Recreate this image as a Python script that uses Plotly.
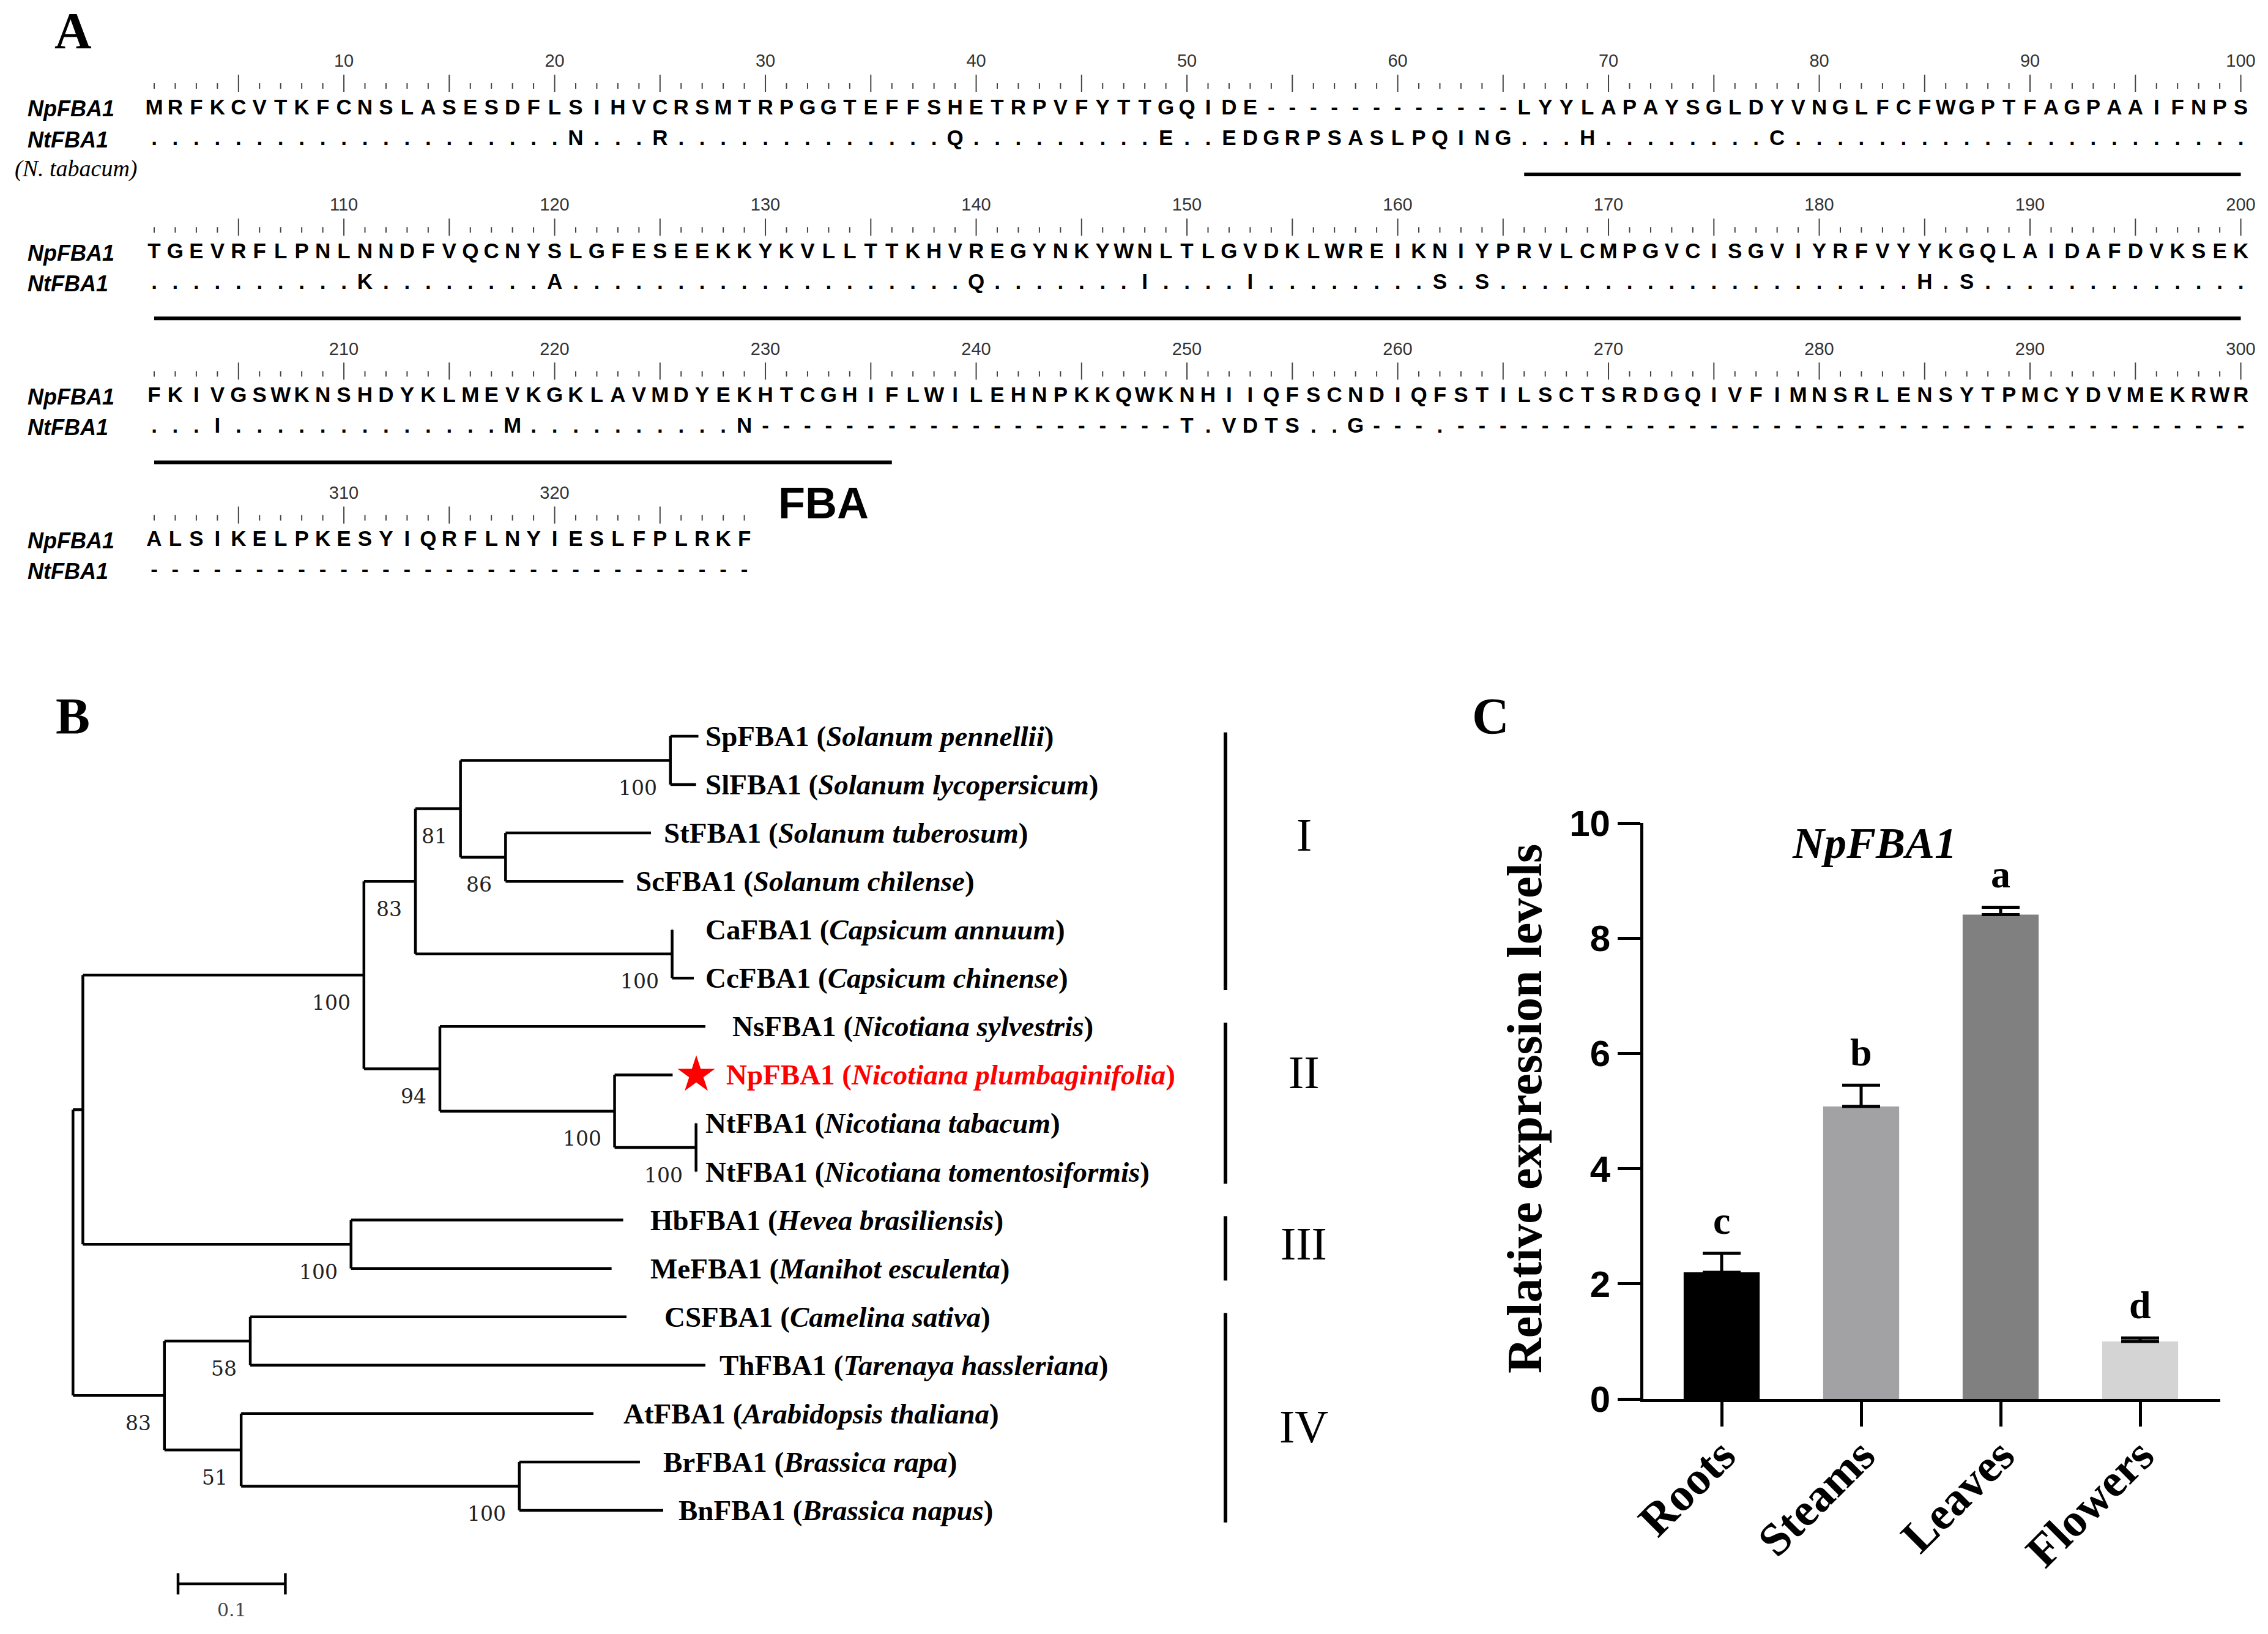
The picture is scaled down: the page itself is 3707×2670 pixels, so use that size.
import plotly.graph_objects as go

W, H = 3707, 2670

# ================= Panel A : alignment data =================
ROW_STARTS = [1, 101, 201, 301]
NP_ROWS = [
    "MRFKCVTKFCNSLASESDFLSIHVCRSMTRPGGTEFFSHETRPVFYTTGQIDE------------LYYLAPAYSGLDYVNGLFCFWGPTFAGPAAIFNPS",
    "TGEVRFLPNLNNDFVQCNYSLGFESEEKKYKVLLTTKHVREGYNKYWNLTLGVDKLWREIKNIYPRVLCMPGVCISGVIYRFVYYKGQLAIDAFDVKSEK",
    "FKIVGSWKNSHDYKLMEVKGKLAVMDYEKHTCGHIFLWILEHNPKKQWKNHIIQFSCNDIQFSTILSCTSRDGQIVFIMNSRLENSYTPMCYDVMEKRWR",
    "ALSIKELPKESYIQRFLNYIESLFPLRKF",
]
NT_ROWS = [
    "...................." + "N" + "..." + "R" + "............." + "Q" + "........." + "E" + ".."
    + "EDGRPSASLPQING" + "..." + "H" + "........" + "C" + "......................",
    ".........." + "K" + "........" + "A" + "..................." + "Q" + "......." + "I" + "...."
    + "I" + "........" + "S.S" + "...................." + "H.S" + ".............",
    "..." + "I" + "............." + "M" + ".........." + "N" + "--------------------"
    + "T.VDTS..G" + "---" + "." + "--------------------------------------",
    "-----------------------------",
]
SEQ_NAMES = ["NpFBA1", "NtFBA1"]
NT_NOTE = "(N. tabacum)"
FBA_DOMAIN = (66, 236)
DOMAIN_LABEL = "FBA"

# ================= Panel B : tree data =================
LEAF_GENES = ["SpFBA1", "SlFBA1", "StFBA1", "ScFBA1", "CaFBA1", "CcFBA1", "NsFBA1", "NpFBA1",
              "NtFBA1", "NtFBA1", "HbFBA1", "MeFBA1", "CSFBA1", "ThFBA1", "AtFBA1", "BrFBA1", "BnFBA1"]
LEAF_SPECIES = ["Solanum pennellii", "Solanum lycopersicum", "Solanum tuberosum", "Solanum chilense",
                "Capsicum annuum", "Capsicum chinense", "Nicotiana sylvestris", "Nicotiana plumbaginifolia",
                "Nicotiana tabacum", "Nicotiana tomentosiformis", "Hevea brasiliensis", "Manihot esculenta",
                "Camelina sativa", "Tarenaya hassleriana", "Arabidopsis thaliana", "Brassica rapa", "Brassica napus"]
LEAF_IDS = ["Sp", "Sl", "St", "Sc", "Ca", "Cc", "Ns", "Np", "Nt", "Nt2", "Hb", "Me", "CS", "Th", "At", "Br", "Bn"]
LEAF_DEPTH = [0.5828, 0.5806, 0.5386, 0.5129, 0.5585, 0.5785, 0.5893, 0.5588,
              0.5808, 0.5808, 0.5127, 0.5019, 0.5158, 0.5893, 0.4850, 0.5283, 0.5500]
NODE_IDS = ["SpSl", "StSc", "Sol2", "Cap", "Sol", "NtNt", "NpNt", "Nic", "Sola", "Euph", "X",
            "CT", "BrBn", "ABB", "Bras", "Root"]
NODE_CHILDREN = [("Sp", "Sl"), ("St", "Sc"), ("SpSl", "StSc"), ("Ca", "Cc"), ("Sol2", "Cap"),
                 ("Nt", "Nt2"), ("Np", "NtNt"), ("Ns", "NpNt"), ("Sol", "Nic"), ("Hb", "Me"),
                 ("Sola", "Euph"), ("CS", "Th"), ("Br", "Bn"), ("At", "BrBn"), ("CT", "ABB"), ("X", "Bras")]
NODE_DEPTH = [0.5567, 0.4031, 0.3611, 0.5583, 0.3191, 0.5806, 0.5047, 0.3419, 0.2711, 0.2591, 0.0092,
              0.1652, 0.4159, 0.1567, 0.0852, 0.0]
NODE_BOOTSTRAP = [100, 86, 81, 100, 83, 100, 100, 94, 100, 100, None, 58, 100, 51, 83, None]
CLADES = ["I", "II", "III", "IV"]
CLADE_MEMBERS = [(0, 5), (6, 9), (10, 11), (12, 16)]
SCALE_BAR = 0.1
SCALE_LABEL = "0.1"

# ================= Panel C : expression data =================
TISSUES = ["Roots", "Steams", "Leaves", "Flowers"]
EXPR = [2.20, 5.08, 8.41, 1.00]
EXPR_ERR = [0.33, 0.37, 0.13, 0.06]
SIG = ["c", "b", "a", "d"]
BAR_COLORS = ["#000000", "#a2a2a5", "#808080", "#d4d4d4"]
GENE_TITLE = "NpFBA1"
Y_TITLE = "Relative expression levels"

# ---------------- layout constants (pixels) ----------------
A_X1, A_DX = 252.0, 34.45          # column 1 centre, column pitch
A_ROW0, A_PITCH = 178.0, 235.2     # first Np row centre, block pitch
NT_OFF = 50                        # Nt row below Np row
T_X0, T_DX = 119.3, 1754.0         # tree root x, px per unit distance
T_Y0, T_DY = 1203.0, 79.06         # first leaf y, leaf pitch
LABEL_GAP = [9, 13, 19, 18, 52, 17, 42, 86, 13, 13, 42, 61, 60, 21, 47, 36, 23]
CLADE_LABEL_Y = [2.04, 6.95, 10.49, 14.27]
C_X0, C_X1, C_CAT0, C_CATD = 2686.0, 3629.0, 2814.0, 228.0
C_Y0, C_Y10 = 2286.0, 1345.0

SANS_N = "Liberation Sans Narrow, Liberation Sans, Arial, sans-serif"
SANS = "Liberation Sans, Arial, sans-serif"
SERIF = "Liberation Serif, Times New Roman, serif"


def paper(x, y):
    return x / W, 1 - y / H


def label(px_, py_, text, font, xanchor="center", **kw):
    xx, yy = paper(px_, py_)
    fig.add_annotation(x=xx, y=yy, xref="paper", yref="paper", xanchor=xanchor, yanchor="middle",
                       text=text, showarrow=False, font=font, **kw)


fig = go.Figure()

# ---------------- Panel A ----------------
tick_x, tick_y, num_x, num_y, num_t = [], [], [], [], []
ul_x, ul_y = [], []
for b, start in enumerate(ROW_STARTS):
    yb = A_ROW0 + b * A_PITCH
    L = len(NP_ROWS[b])
    cols = list(range(1, L + 1))
    for c in cols:
        pos = start + c - 1
        if pos % 5 == 0:
            y0, y1 = yb - 56, yb - 28
        else:
            y0, y1 = yb - 42, yb - 33
        tick_x += [c, c, None]
        tick_y += [y0, y1, None]
        if pos % 10 == 0:
            num_x.append(c)
            num_y.append(yb - 76)
            num_t.append(str(pos))
    fig.add_trace(go.Scatter(x=cols, y=[yb] * L, text=list(NP_ROWS[b]), mode="text",
                             textfont=dict(family=SANS_N, size=35, color="black", weight="bold"),
                             xaxis="x", yaxis="y", hoverinfo="skip", cliponaxis=False))
    nt = NT_ROWS[b]
    fig.add_trace(go.Scatter(x=list(range(1, len(nt) + 1)), y=[yb + NT_OFF] * len(nt), text=list(nt),
                             mode="text", textfont=dict(family=SANS_N, size=35, color="black", weight="bold"),
                             xaxis="x", yaxis="y", hoverinfo="skip", cliponaxis=False))
    lo = max(FBA_DOMAIN[0], start)
    hi = min(FBA_DOMAIN[1], start + L - 1)
    if lo <= hi:
        ul_x += [lo - start + 1, hi - start + 1, None]
        ul_y += [yb + 107, yb + 107, None]
    for k, nm in enumerate(SEQ_NAMES):
        label(43, yb + NT_OFF * k, f"<b><i>{nm}</i></b>", dict(family=SANS_N, size=36, color="black"),
              xanchor="left")

fig.add_trace(go.Scatter(x=tick_x, y=tick_y, mode="lines", line=dict(color="#444444", width=2),
                         xaxis="x", yaxis="y", hoverinfo="skip"))
fig.add_trace(go.Scatter(x=num_x, y=num_y, text=num_t, mode="text",
                         textfont=dict(family=SANS_N, size=29, color="#333333"),
                         xaxis="x", yaxis="y", hoverinfo="skip", cliponaxis=False))
fig.add_trace(go.Scatter(x=ul_x, y=ul_y, mode="lines", line=dict(color="black", width=6),
                         xaxis="x", yaxis="y", hoverinfo="skip"))

label(124, A_ROW0 + 97, f"<i>{NT_NOTE}</i>", dict(family=SERIF, size=38, color="black"))
label(1346, 822, f"<b>{DOMAIN_LABEL}</b>", dict(family=SANS, size=72, color="black"))

# ---------------- Panel B ----------------
pos_y = {lid: float(i) for i, lid in enumerate(LEAF_IDS)}
depth = {lid: d for lid, d in zip(LEAF_IDS, LEAF_DEPTH)}
parent = {}
for nid, ch, d in zip(NODE_IDS, NODE_CHILDREN, NODE_DEPTH):
    depth[nid] = d
    for c in ch:
        parent[c] = nid
for nid, ch in zip(NODE_IDS, NODE_CHILDREN):
    pos_y[nid] = (pos_y[ch[0]] + pos_y[ch[1]]) / 2.0

bx, by = [], []
for nid, p in parent.items():
    bx += [depth[p], depth[nid], None]
    by += [pos_y[nid], pos_y[nid], None]
for nid, ch in zip(NODE_IDS, NODE_CHILDREN):
    bx += [depth[nid], depth[nid], None]
    by += [pos_y[ch[0]], pos_y[ch[1]], None]
fig.add_trace(go.Scatter(x=bx, y=by, mode="lines", line=dict(color="black", width=4.5),
                         xaxis="x2", yaxis="y2", hoverinfo="skip"))

for nid, bs in zip(NODE_IDS, NODE_BOOTSTRAP):
    if bs is None:
        continue
    fig.add_annotation(x=depth[nid], y=pos_y[nid], xref="x2", yref="y2", xanchor="right", yanchor="middle",
                       xshift=-20, yshift=-45, text=str(bs), showarrow=False,
                       font=dict(family="DejaVu Serif, serif", size=33, color="#222222"))

for i, (g, sp) in enumerate(zip(LEAF_GENES, LEAF_SPECIES)):
    col = "#ff0000" if g == "NpFBA1" else "black"
    fig.add_annotation(x=LEAF_DEPTH[i], y=i, xref="x2", yref="y2", xanchor="left", yanchor="middle",
                       xshift=LABEL_GAP[i], text=f"<b>{g} (<i>{sp}</i>)</b>", showarrow=False,
                       font=dict(family=SERIF, size=47, color=col))

np_i = LEAF_GENES.index("NpFBA1")
fig.add_trace(go.Scatter(x=[LEAF_DEPTH[np_i] + 38.6 / T_DX], y=[np_i], mode="markers",
                         marker=dict(symbol="star", size=46, color="#ff0000", line=dict(width=0)),
                         xaxis="x2", yaxis="y2", hoverinfo="skip"))

bar_px = 2003.0
for name, (a, z), ly in zip(CLADES, CLADE_MEMBERS, CLADE_LABEL_Y):
    fig.add_shape(type="line", xref="paper", yref="y2", x0=bar_px / W, x1=bar_px / W,
                  y0=a - 0.08, y1=z + 0.25, line=dict(color="black", width=6))
    fig.add_annotation(x=2131 / W, y=ly, xref="paper", yref="y2", xanchor="center", yanchor="middle",
                       text=name, showarrow=False, font=dict(family=SERIF, size=76, color="black"))

sb_x0 = (291 - T_X0) / T_DX
sb_y = (2588 - T_Y0) / T_DY
fig.add_trace(go.Scatter(x=[sb_x0, sb_x0 + SCALE_BAR, None, sb_x0, sb_x0, None, sb_x0 + SCALE_BAR, sb_x0 + SCALE_BAR],
                         y=[sb_y, sb_y, None, sb_y - 0.22, sb_y + 0.22, None, sb_y - 0.22, sb_y + 0.22],
                         mode="lines", line=dict(color="black", width=4.5), xaxis="x2", yaxis="y2",
                         hoverinfo="skip"))
fig.add_annotation(x=sb_x0 + SCALE_BAR / 2, y=sb_y, xref="x2", yref="y2", xanchor="center", yanchor="middle",
                   yshift=-42, text=SCALE_LABEL, showarrow=False,
                   font=dict(family="DejaVu Serif, serif", size=30, color="#444444"))

# ---------------- Panel C ----------------
fig.add_trace(go.Bar(x=TISSUES, y=EXPR, width=0.545,
                     marker=dict(color=BAR_COLORS, line=dict(width=0)),
                     error_y=dict(type="data", symmetric=False, array=EXPR_ERR, arrayminus=[0] * len(EXPR),
                                  color="black", thickness=5, width=31),
                     xaxis="x3", yaxis="y3", hoverinfo="skip"))
for t, v, e, s in zip(TISSUES, EXPR, EXPR_ERR, SIG):
    fig.add_annotation(x=t, y=v + e, xref="x3", yref="y3", xanchor="center", yanchor="bottom", yshift=16,
                       text=f"<b>{s}</b>", showarrow=False, font=dict(family=SERIF, size=64, color="black"))
label(3063, 1378, f"<b><i>{GENE_TITLE}</i></b>", dict(family=SERIF, size=72, color="black"))
label(2492, 1812, f"<b>{Y_TITLE}</b>", dict(family=SERIF, size=80, color="black"), textangle=-90)

for lab, (px_, py_) in zip(["A", "B", "C"], [(119, 50), (119, 1170), (2436, 1171)]):
    label(px_, py_, f"<b>{lab}</b>", dict(family=SERIF, size=84, color="black"))

fig.update_layout(
    width=W, height=H, margin=dict(l=0, r=0, t=0, b=0, pad=0, autoexpand=False),
    paper_bgcolor="white", plot_bgcolor="rgba(0,0,0,0)", showlegend=False,
    xaxis=dict(domain=[0, 1], range=[1 - A_X1 / A_DX, 1 + (W - A_X1) / A_DX], visible=False, automargin=False),
    yaxis=dict(domain=[0, 1], range=[H, 0], visible=False, automargin=False),
    xaxis2=dict(domain=[0, 1], range=[-T_X0 / T_DX, (W - T_X0) / T_DX], visible=False, anchor="y2",
                automargin=False),
    yaxis2=dict(domain=[0, 1], range=[(H - T_Y0) / T_DY, -T_Y0 / T_DY], visible=False, anchor="x2",
                automargin=False),
    xaxis3=dict(domain=[C_X0 / W, C_X1 / W], anchor="y3", type="category", automargin=False,
                range=[(C_X0 - C_CAT0) / C_CATD, (C_X1 - C_CAT0) / C_CATD],
                showline=True, linewidth=5, linecolor="black", ticks="outside", ticklen=40, tickwidth=5,
                tickcolor="black", tickangle=-45, showgrid=False, zeroline=False, ticklabelstandoff=-28,
                tickfont=dict(family=SERIF, size=76, color="black", weight="bold")),
    yaxis3=dict(domain=[1 - C_Y0 / H, 1 - C_Y10 / H], anchor="x3", range=[0, 10], dtick=2, automargin=False,
                showline=True, linewidth=5, linecolor="black", ticks="outside", ticklen=37, tickwidth=5,
                tickcolor="black", showgrid=False, zeroline=False,
                tickfont=dict(family=SANS, size=60, color="black", weight="bold")),
)

fig.write_html("out.html", config={"displayModeBar": False},
               post_script="document.body.style.margin='0px';")
